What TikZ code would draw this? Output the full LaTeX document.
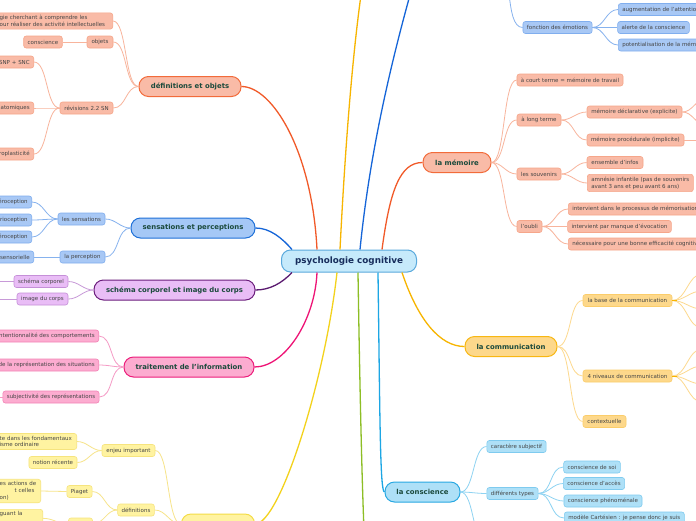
\documentclass[tikz,border=0pt]{standalone}
\usepackage{fontspec}
\setmainfont{DejaVu Sans}
\definecolor{rM}{HTML}{F15A29}\definecolor{rF}{HTML}{F9BBA7}\definecolor{rD}{HTML}{F26B3A}\definecolor{rSD}{HTML}{F6A68A}\definecolor{rSL}{HTML}{F8B49C}
\definecolor{bM}{HTML}{1565D8}\definecolor{bF}{HTML}{A5C8F6}\definecolor{bD}{HTML}{1E70D8}\definecolor{bSF}{HTML}{A8C8F5}\definecolor{bSD}{HTML}{80AEEE}\definecolor{bSL}{HTML}{86B2EE}
\definecolor{pM}{HTML}{5B1A70}\definecolor{pF}{HTML}{E9BDF6}\definecolor{pD}{HTML}{6B1D7C}\definecolor{pSD}{HTML}{C58FD8}\definecolor{pSL}{HTML}{C89AD8}
\definecolor{kM}{HTML}{EE1476}\definecolor{kF}{HTML}{FCACD0}\definecolor{kD}{HTML}{EC1C7A}\definecolor{kSD}{HTML}{F383B5}\definecolor{kSL}{HTML}{F59AC5}
\definecolor{yM}{HTML}{F3D21C}\definecolor{yF}{HTML}{FFF3A1}\definecolor{yD}{HTML}{F4DC45}\definecolor{ySD}{HTML}{F6E47E}\definecolor{ySL}{HTML}{F7E48A}
\definecolor{gM}{HTML}{F7B500}\definecolor{gF}{HTML}{FDD88B}\definecolor{gD}{HTML}{F8B712}\definecolor{gSD}{HTML}{FBCD6A}\definecolor{gSL}{HTML}{FDD98E}
\definecolor{cM}{HTML}{1CA6E4}\definecolor{cF}{HTML}{AEE0F7}\definecolor{cD}{HTML}{28A8E2}\definecolor{cSD}{HTML}{7FCBEF}\definecolor{cSL}{HTML}{8ED3F2}
\definecolor{grM}{HTML}{8DBE25}
\definecolor{ctrF}{HTML}{C6EAFB}\definecolor{ctrD}{HTML}{5AA9DC}\definecolor{ctrT}{HTML}{172D5C}
\definecolor{tT}{HTML}{1B4A3C}\definecolor{sT}{HTML}{454545}
\tikzset{
  central/.style={draw=ctrD, fill=ctrF, line width=1pt, rounded corners=9pt, minimum width=135pt, minimum height=22pt, inner sep=0pt, text=ctrT, font=\fontsize{8.8}{10}\selectfont\bfseries},
  topic/.style={line width=1pt, rounded corners=9.5pt, minimum height=20pt, inner sep=0pt, text=tT, font=\fontsize{6.9}{8}\selectfont\bfseries},
  sub/.style={line width=0.6pt, rounded corners=2.5pt, minimum height=12pt, inner xsep=4pt, inner ysep=2.5pt, text=sT, font=\fontsize{5.5}{6.8}\selectfont},
  tR/.style={topic, draw=rD, fill=rF}, sR/.style={sub, draw=rSD, fill=rF}, lR/.style={draw=rSL, line width=0.8pt}, mR/.style={draw=rM, line width=1.3pt},
  tB/.style={topic, draw=bD, fill=bF}, sB/.style={sub, draw=bSD, fill=bSF}, lB/.style={draw=bSL, line width=0.8pt}, mB/.style={draw=bM, line width=1.3pt},
  tP/.style={topic, draw=pD, fill=pF}, sP/.style={sub, draw=pSD, fill=pF}, lP/.style={draw=pSL, line width=0.8pt}, mP/.style={draw=pM, line width=1.3pt},
  tK/.style={topic, draw=kD, fill=kF}, sK/.style={sub, draw=kSD, fill=kF}, lK/.style={draw=kSL, line width=0.8pt}, mK/.style={draw=kM, line width=1.3pt},
  tY/.style={topic, draw=yD, fill=yF}, sY/.style={sub, draw=ySD, fill=yF}, lY/.style={draw=ySL, line width=0.8pt}, mY/.style={draw=yM, line width=1.3pt},
  tG/.style={topic, draw=gD, fill=gF}, sG/.style={sub, draw=gSD, fill=gF}, lG/.style={draw=gSL, line width=0.8pt}, mG/.style={draw=gM, line width=1.3pt},
  tC/.style={topic, draw=cD, fill=cF}, sC/.style={sub, draw=cSD, fill=cF}, lC/.style={draw=cSL, line width=0.8pt}, mC/.style={draw=cM, line width=1.3pt},
  cutl/.style={anchor=east, text width=#1, align=right},
  rc/.style={out=0, in=180, max distance=14pt},
  lc/.style={out=180, in=0, max distance=14pt}
}
\begin{document}
\begin{tikzpicture}[x=1pt, y=-1pt]
\fill[white] (0,0) rectangle (696,520);
\useasboundingbox (0,0) rectangle (696,520);

% central
\node[central] (c) at (349,261) {psychologie cognitive};

% main topics
\node[tR, minimum width=102] (def) at (190,86.5) {définitions et objets};
\node[tB, minimum width=124] (sens) at (193,228) {sensations et perceptions};
\node[tP, minimum width=161] (schema) at (174.5,290) {schéma corporel et image du corps};
\node[tK, minimum width=130] (trait) at (189,367) {traitement de l'information};
\node[tY, minimum width=73] (yel) at (218,524) {};
\node[tR, minimum width=68] (mem) at (457,162.5) {la mémoire};
\node[tG, minimum width=92] (comm) at (511,346.5) {la communication};
\node[tC, minimum width=75] (consc) at (422.5,492) {la conscience};

% off-page coordinates
\coordinate (tg) at (361,-5);
\coordinate (tb) at (410,-5);
\coordinate (gr) at (364,530);

% main connectors
\draw[mR] ([xshift=-32pt]c.north) .. controls (312,150) and (272,86.5) .. (def.east);
\draw[mB] ([xshift=-57pt]c.north) .. controls (282,238) and (270,228) .. (sens.east);
\draw[mP] ([xshift=-57pt]c.south) .. controls (282,283) and (270,290) .. (schema.east);
\draw[mK] ([xshift=-32pt]c.south) .. controls (315,320) and (285,367) .. (trait.east);
\draw[mY] ([xshift=-12pt]c.south) .. controls (325,380) and (280,524) .. (yel.east);
\draw[draw=grM, line width=1.3pt] ([xshift=9pt]c.south) .. controls (360,400) and (362,480) .. (gr);
\draw[mC] ([xshift=29pt]c.south) .. controls (380,420) and (380,492) .. (consc.west);
\draw[mG] ([xshift=53pt]c.south) .. controls (418,320) and (440,346.5) .. (comm.west);
\draw[mR] ([xshift=33pt]c.north) .. controls (390,190) and (400,162.5) .. (mem.west);
\draw[mB] ([xshift=11pt]c.north) .. controls (370,150) and (392,60) .. (tb);
\draw[mG] ([xshift=-9pt]c.north) .. controls (345,150) and (352,60) .. (tg);

% ---- définitions et objets
\node[sR, anchor=east, text width=109pt, align=left] (longd) at (113,21) {gie cherchant à comprendre les\\our réaliser des activité intellectuelles};
\node[sR, minimum width=26] (obj) at (100,42) {objets};
\node[sR, minimum width=38] (cons1) at (43,42) {conscience};
\node[sR, minimum width=53] (rev) at (86.5,108) {révisions 2.2 SN};
\node[sR, cutl=45pt] (snp) at (34,62) {SNP + SNC};
\node[sR, cutl=45pt] (atom) at (34,108) {anatomiques};
\node[sR, cutl=45pt] (neuro) at (34,154) {neuroplasticité};
\draw[lR] (def.west) to[lc] (longd.east);
\draw[lR] (def.west) to[lc] (obj.east);
\draw[lR] (def.west) to[lc] (rev.east);
\draw[lR] (obj.west) -- (cons1.east);
\draw[lR] (rev.west) to[lc] (snp.east);
\draw[lR] (rev.west) to[lc] (atom.east);
\draw[lR] (rev.west) to[lc] (neuro.east);

% ---- sensations et perceptions
\node[sB, minimum width=47] (lessens) at (81.5,219) {les sensations};
\node[sB, minimum width=45] (laperc) at (82.5,257) {la perception};
\node[sB, cutl=45pt] (ext) at (32,202) {extéroception};
\node[sB, cutl=45pt] (prop) at (32,220) {proprioception};
\node[sB, cutl=45pt] (intero) at (32,237) {intéroception};
\node[sB, cutl=45pt] (sensor) at (34,257) {sensorielle};
\draw[lB] (sens.west) to[lc] (lessens.east);
\draw[lB] (sens.west) to[lc] (laperc.east);
\draw[lB] (lessens.west) to[lc] (ext.east);
\draw[lB] (lessens.west) to[lc] (prop.east);
\draw[lB] (lessens.west) to[lc] (intero.east);
\draw[lB] (laperc.west) -- (sensor.east);

% ---- schéma corporel
\node[sP, minimum width=54] (schc) at (41,281.5) {schéma corporel};
\node[sP, minimum width=51] (imc) at (42.5,299) {image du corps};
\coordinate (schx) at (-10,281.5);
\coordinate (imcx) at (-10,299);
\draw[lP] (schema.west) to[lc] (schc.east);
\draw[lP] (schema.west) to[lc] (imc.east);
\draw[lP] (schc.west) -- (schx);
\draw[lP] (imc.west) -- (imcx);

% ---- traitement de l'information
\node[sK, cutl=105pt] (intent) at (99,336) {intentionnalité des comportements};
\node[sK, cutl=105pt] (repr) at (99,365) {de la représentation des situations};
\node[sK, minimum width=96] (subj) at (51,397) {subjectivité des représentations};
\coordinate (subjx) at (-10,397);
\draw[lK] (trait.west) to[lc] (intent.east);
\draw[lK] (trait.west) to[lc] (repr.east);
\draw[lK] (trait.west) to[lc] (subj.east);
\draw[lK] (subj.west) -- (subjx);

% ---- yellow branch
\node[sY, minimum width=53] (enjeu) at (128.5,450.5) {enjeu important};
\node[sY, anchor=east, text width=73pt, align=left] (fond) at (77,441.5) {te dans les fondamentaux\\isme ordinaire};
\node[sY, minimum width=48] (recente) at (53,462.5) {notion récente};
\node[sY, minimum width=36] (defs) at (136,510) {définitions};
\node[sY, minimum width=25] (piaget) at (79.5,491.5) {Piaget};
\node[sY, anchor=east, text width=37pt, align=left] (piagetc) at (41,491) {es actions de\\\hspace*{15pt}t celles\\on)};
\node[sY, minimum width=24] (defc2) at (80.5,524) {};
\node[sY, anchor=north east, text width=39pt, align=left] (guant) at (43,509) {guant la\\\strut};
\draw[lY] (yel.west) to[lc] (enjeu.east);
\draw[lY] (yel.west) to[lc] (defs.east);
\draw[lY] (enjeu.west) to[lc] (fond.east);
\draw[lY] (enjeu.west) to[lc] (recente.east);
\draw[lY] (defs.west) to[lc] (piaget.east);
\draw[lY] (defs.west) to[lc] (defc2.east);
\draw[lY] (piaget.west) -- (piagetc.east);
\draw[lY] (defc2.west) to[lc] (guant.east);

% ---- top blue branch (émotions)
\node[sB, minimum width=69] (fonc) at (557.5,27.5) {fonction des émotions};
\node[sB, anchor=west] (augm) at (618,9.5) {augmentation de l'attention};
\node[sB, minimum width=71] (alerte) at (653.5,27.5) {alerte de la conscience};
\node[sB, anchor=west] (potent) at (618,45) {potentialisation de la mémoire};
\coordinate (fpar) at (509,-6);
\draw[lB] (fonc.west) .. controls (513,27.5) and (511,10) .. (fpar);
\draw[lB] (fonc.east) to[rc] (augm.west);
\draw[lB] (fonc.east) to[rc] (alerte.west);
\draw[lB] (fonc.east) to[rc] (potent.west);

% ---- la mémoire
\node[sR, minimum width=106] (court) at (570,80) {à court terme = mémoire de travail};
\node[sR, minimum width=44] (long2) at (539,120) {à long terme};
\node[sR, minimum width=95] (decl) at (634.5,112) {mémoire déclarative (explicite)};
\node[sR, minimum width=97] (proc) at (635.5,140) {mémoire procédurale (implicite)};
\node[sR, minimum width=44] (souv) at (539,174) {les souvenirs};
\node[sR, minimum width=56] (ensem) at (615,162.5) {ensemble d'infos};
\node[sR, anchor=west, align=left] (amn) at (587,183) {amnésie infantile (pas de souvenirs\\avant 3 ans et peu avant 6 ans)};
\node[sR, minimum width=25] (oubli) at (529.5,226.5) {l'oubli};
\node[sR, anchor=west] (ov1) at (568,209) {intervient dans le processus de mémorisation};
\node[sR, minimum width=103] (ov2) at (619.5,226.5) {intervient par manque d'évocation};
\node[sR, anchor=west] (ov3) at (568,244) {nécessaire pour une bonne efficacité cognitive};
\coordinate (dx1) at (706,99);
\coordinate (dx2) at (706,125);
\coordinate (px1) at (706,140);
\draw[lR] (mem.east) to[rc] (court.west);
\draw[lR] (mem.east) to[rc] (long2.west);
\draw[lR] (mem.east) to[rc] (souv.west);
\draw[lR] (mem.east) to[rc] (oubli.west);
\draw[lR] (long2.east) to[rc] (decl.west);
\draw[lR] (long2.east) to[rc] (proc.west);
\draw[lR] (decl.east) to[rc] (dx1);
\draw[lR] (decl.east) to[rc] (dx2);
\draw[lR] (proc.east) -- (px1);
\draw[lR] (souv.east) to[rc] (ensem.west);
\draw[lR] (souv.east) to[rc] (amn.west);
\draw[lR] (oubli.east) to[rc] (ov1.west);
\draw[lR] (oubli.east) to[rc] (ov2.west);
\draw[lR] (oubli.east) to[rc] (ov3.west);

% ---- la communication
\node[sG, minimum width=89] (base) at (627.5,300.5) {la base de la communication};
\node[sG, minimum width=89] (niv) at (627.5,376) {4 niveaux de communication};
\node[sG, minimum width=43] (ctx) at (604.5,421.5) {contextuelle};
\coordinate (b1) at (702,274);
\coordinate (b2) at (702,291);
\coordinate (b3) at (702,309);
\coordinate (b4) at (702,328);
\coordinate (n1) at (702,349);
\coordinate (n2) at (702,366);
\coordinate (n3) at (702,384);
\coordinate (n4) at (702,402);
\draw[lG] (comm.east) to[rc] (base.west);
\draw[lG] (comm.east) to[rc] (niv.west);
\draw[lG] (comm.east) to[rc] (ctx.west);
\foreach \e in {b1,b2,b3,b4} \draw[lG] (base.east) to[rc] (\e);
\foreach \e in {n1,n2,n3,n4} \draw[lG] (niv.east) to[rc] (\e);
\draw[mG, line width=1pt] (base.east) -- ++(5,0);
\draw[mG, line width=1pt] (niv.east) -- ++(5,0);

% ---- la conscience
\node[sC, minimum width=59] (carac) at (516.5,446.5) {caractère subjectif};
\node[sC, minimum width=51] (diff) at (512.5,493.5) {différents types};
\node[sC, minimum width=56] (soi) at (592,467) {conscience de soi};
\node[sC, minimum width=60] (acces) at (594,483.5) {conscience d'accès};
\node[sC, minimum width=78] (phen) at (603,501) {conscience phénoménale};
\node[sC, anchor=west] (model) at (564,518) {modèle Cartésien : je pense donc je suis};
\coordinate (cc3) at (487,548);
\draw[lC] (consc.east) to[rc] (carac.west);
\draw[lC] (consc.east) to[rc] (diff.west);
\draw[lC] (consc.east) to[rc] (cc3);
\draw[lC] (diff.east) to[rc] (soi.west);
\draw[lC] (diff.east) to[rc] (acces.west);
\draw[lC] (diff.east) to[rc] (phen.west);
\draw[lC] (diff.east) to[rc] (model.west);
\end{tikzpicture}
\end{document}
